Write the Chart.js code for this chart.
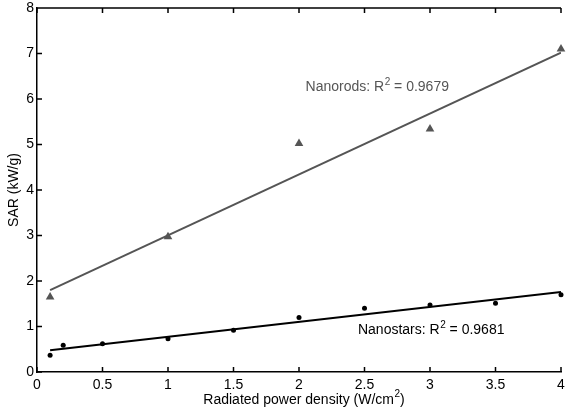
<!DOCTYPE html>
<html>
<head>
<meta charset="utf-8">
<script src="https://cdn.jsdelivr.net/npm/chart.js@4"></script>
<style>
  html, body { margin: 0; padding: 0; background: #fff; }
  #wrap { width: 566px; height: 412px; }
</style>
</head>
<body>
<div id="wrap"><canvas id="chart" width="566" height="412"></canvas></div>
<script>
// measured power density (W/cm2)
const starsX = [0.1, 0.2, 0.5, 1, 1.5, 2, 2.5, 3, 3.5, 4]
const starsSar = [0.37, 0.59, 0.62, 0.73, 0.92, 1.2, 1.4, 1.47, 1.51, 1.7]
const rodsX = [0.1, 1, 2, 3, 4]
const rodsSar = [1.65, 2.97, 5.02, 5.34, 7.1]

// linear fit end points
const fitX = [0.1, 4]
const starsFit = [0.48, 1.76]
const rodsFit = [1.8, 7.02]

const xTicks = [0, 0.5, 1, 1.5, 2, 2.5, 3, 3.5, 4]
const yTicks = [0, 1, 2, 3, 4, 5, 6, 7, 8]

const rodsColor = '#555555'
const starsColor = '#000000'
const fontFamily = '"Liberation Sans", Arial, sans-serif'

const pairs = (xs, ys) => xs.map((x, i) => ({ x, y: ys[i] }))

// text with a raised "2", left edge at x, vertical middle at y
function drawSupText (ctx, before, sup, after, x, y, size) {
  ctx.font = size + 'px ' + fontFamily
  ctx.fillText(before, x, y)
  x += ctx.measureText(before).width
  ctx.font = Math.round(size * 0.72) + 'px ' + fontFamily
  ctx.fillText(sup, x + 0.5, y - size * 0.38)
  x += ctx.measureText(sup).width + 0.5
  ctx.font = size + 'px ' + fontFamily
  ctx.fillText(after, x, y)
}

function supWidth (ctx, before, sup, after, size) {
  ctx.font = size + 'px ' + fontFamily
  let w = ctx.measureText(before).width + ctx.measureText(after).width
  ctx.font = Math.round(size * 0.72) + 'px ' + fontFamily
  return w + ctx.measureText(sup).width + 0.5
}

// box top edge plus inward tick marks, the x title and the fit labels
const axesPlugin = {
  id: 'matlabAxes',
  afterDraw (chart) {
    const { ctx, chartArea: area, scales: { x, y } } = chart
    ctx.save()
    ctx.strokeStyle = '#000'
    ctx.lineWidth = 1.5
    ctx.beginPath()
    ctx.moveTo(area.left, area.top)
    ctx.lineTo(area.right, area.top)
    xTicks.forEach(v => {
      const px = x.getPixelForValue(v)
      ctx.moveTo(px, area.bottom)
      ctx.lineTo(px, area.bottom - 5)
      ctx.moveTo(px, area.top)
      ctx.lineTo(px, area.top + 5)
    })
    yTicks.forEach(v => {
      const py = y.getPixelForValue(v)
      ctx.moveTo(area.left, py)
      ctx.lineTo(area.left + 5, py)
    })
    ctx.stroke()

    ctx.textBaseline = 'middle'
    ctx.textAlign = 'left'

    ctx.fillStyle = '#000'
    const tw = supWidth(ctx, 'Radiated power density (W/cm', '2', ')', 14)
    drawSupText(ctx, 'Radiated power density (W/cm', '2', ')',
      (x.left + x.right) / 2 - tw / 2 + 5, x.bottom - 12, 14)

    ctx.fillStyle = rodsColor
    drawSupText(ctx, 'Nanorods: R', '2', ' = 0.9679', x.getPixelForValue(2.05), y.getPixelForValue(6.25), 14)
    ctx.fillStyle = starsColor
    drawSupText(ctx, 'Nanostars: R', '2', ' = 0.9681', x.getPixelForValue(2.45), y.getPixelForValue(0.92), 14)
    ctx.restore()
  }
}

new Chart(document.getElementById('chart'), {
  type: 'scatter',
  data: {
    datasets: [
      {
        type: 'line',
        data: pairs(fitX, rodsFit),
        borderColor: rodsColor,
        borderWidth: 2,
        pointRadius: 0
      },
      {
        type: 'line',
        data: pairs(fitX, starsFit),
        borderColor: starsColor,
        borderWidth: 2,
        pointRadius: 0
      },
      {
        data: pairs(rodsX, rodsSar),
        pointStyle: 'triangle',
        pointRadius: 5,
        backgroundColor: rodsColor,
        borderColor: rodsColor,
        borderWidth: 0,
        clip: false
      },
      {
        data: pairs(starsX, starsSar),
        pointStyle: 'circle',
        pointRadius: 2.5,
        backgroundColor: starsColor,
        borderColor: starsColor,
        borderWidth: 0,
        clip: false
      }
    ]
  },
  options: {
    responsive: false,
    animation: false,
    layout: { padding: { top: 8, right: 4, left: 0, bottom: 0 } },
    plugins: {
      legend: { display: false },
      tooltip: { enabled: false }
    },
    scales: {
      x: {
        type: 'linear',
        min: 0,
        max: 4,
        afterFit (scale) {
          scale.height = 40
          scale.paddingLeft = 0
          scale.paddingRight = 0
        },
        afterBuildTicks (scale) { scale.ticks = xTicks.map(value => ({ value })) },
        grid: { display: false, drawTicks: false },
        border: { display: true, color: '#000', width: 1.5 },
        ticks: {
          color: '#000',
          padding: 5,
          maxRotation: 0,
          font: { family: fontFamily, size: 14 },
          callback: value => String(value)
        }
      },
      y: {
        type: 'linear',
        min: 0,
        max: 8,
        afterFit (scale) {
          scale.width = 37
          scale.paddingTop = 0
          scale.paddingBottom = 0
        },
        afterBuildTicks (scale) { scale.ticks = yTicks.map(value => ({ value })) },
        grid: { display: false, drawTicks: false },
        border: { display: true, color: '#000', width: 1.5 },
        ticks: {
          color: '#000',
          padding: 3,
          font: { family: fontFamily, size: 14 },
          callback: value => String(value)
        },
        title: {
          display: true,
          text: 'SAR (kW/g)',
          color: '#000',
          padding: { top: 6, bottom: 0 },
          font: { family: fontFamily, size: 14 }
        }
      }
    }
  },
  plugins: [axesPlugin]
})
</script>
</body>
</html>
